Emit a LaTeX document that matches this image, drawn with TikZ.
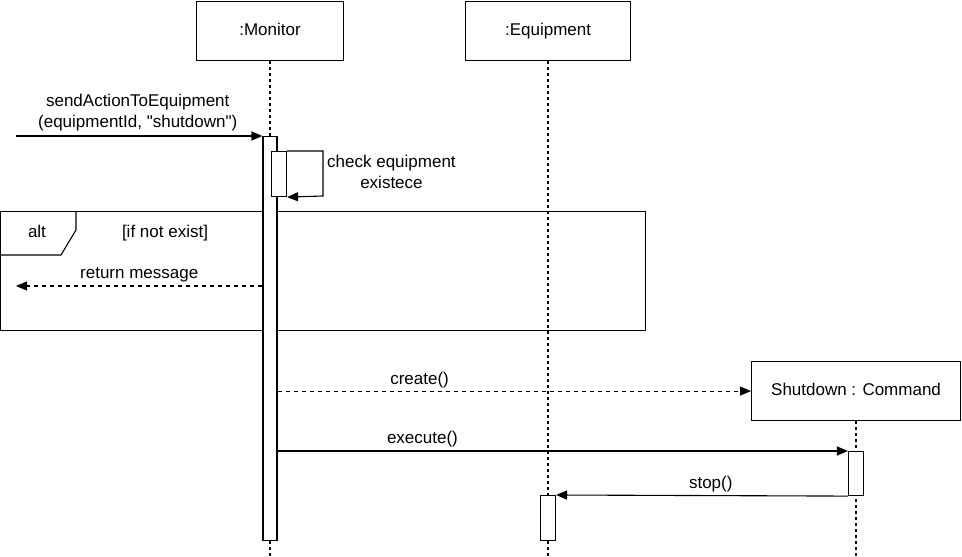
\documentclass[tikz,border=0pt]{standalone}
\usepackage{fontspec}
\setmainfont{Liberation Sans}[Ligatures=TeXOff]
\usetikzlibrary{arrows.meta}
\begin{document}
\begin{tikzpicture}[x=1pt,y=-1pt,
  every node/.style={font=\fontsize{17}{21}\selectfont, inner sep=0pt, text height=12pt, text depth=3.5pt},
  lifebox/.style={draw, line width=1.1pt, fill=white, minimum height=59, anchor=north west},
  actbox/.style={draw, line width=1.1pt, fill=white, minimum width=14, anchor=north},
  lifeline/.style={line width=1.1pt, dash pattern=on 3pt off 3pt},
  msg/.style={line width=1.1pt, -{Triangle[length=11pt,width=9pt]}},
  reply/.style={msg, dash pattern=on 4pt off 4pt},
  lbl/.style={anchor=south, yshift=3pt}]
\useasboundingbox (0,0) rectangle (962,557);
% lifeline heads
\node[lifebox, minimum width=147] (mon) at (196,1) {:Monitor};
\node[lifebox, minimum width=165] (eq) at (465,1) {:Equipment};
\node[lifebox, minimum width=209] (sh) at (751,361) {Shutdown : Command};
% lifelines
\coordinate (monEnd) at (270,557);
\coordinate (eqEnd) at (548,557);
\coordinate (shEnd) at (856,557);
\draw[lifeline] (mon.south -| monEnd) -- (monEnd);
\draw[lifeline] (eq.south -| eqEnd) -- (eqEnd);
\draw[lifeline] (sh.south -| shEnd) -- (shEnd);
% alt frame
\node[draw, line width=1.1pt, minimum width=645, minimum height=119, anchor=north west] (alt) at (0,211) {};
\coordinate (tabA) at (76,211);
\coordinate (tabB) at (76,230);
\coordinate (tabC) at (61,255);
\coordinate (tabD) at (0,255);
\draw[line width=1.1pt] (tabA) -- (tabB) -- (tabC) -- (tabD);
\node (altlbl) at (37,233) {alt};
\node (guard) at (165,233) {[if not exist]};
% activations
\node[actbox, minimum height=404] (monAct) at (270,136) {};
\node[actbox, minimum width=15, minimum height=45, anchor=north west] (selfAct) at (271,151) {};
\node[actbox, minimum width=15, minimum height=44] (shAct) at (856,451) {};
\node[actbox, minimum width=15, minimum height=45] (eqAct) at (548,495) {};
% incoming message
\coordinate (in) at (16,136);
\draw[msg] (in) -- (monAct.north west)
  node[pos=0.494, anchor=south, yshift=4pt, align=center, text height=, text depth=] (inlbl) {sendActionToEquipment\\(equipmentId, "shutdown")};
% self call
\coordinate (loopA) at (323,151);
\coordinate (loopB) at (323,196);
\draw[msg] (selfAct.north east) -- (loopA) -- (loopB) -- (selfAct.south east);
\node[anchor=west, align=center, text height=, text depth=] (selflbl) at (327,172) {check equipment\\existece};
% return message
\coordinate (ret) at (16,286);
\draw[reply] (monAct.west |- ret) -- (ret)
  node[pos=0.5, lbl] (retlbl) {return message};
% create
\draw[reply] (monAct.east |- sh.west) -- (sh.west)
  node[pos=0.30, lbl] (createlbl) {create()};
% execute
\draw[msg] (monAct.east |- shAct.north west) -- (shAct.north west)
  node[pos=0.254, lbl] (execlbl) {execute()};
% stop
\draw[msg] (shAct.south west) -- (eqAct.north east)
  node[pos=0.47, lbl] (stoplbl) {stop()};
\end{tikzpicture}
\end{document}
